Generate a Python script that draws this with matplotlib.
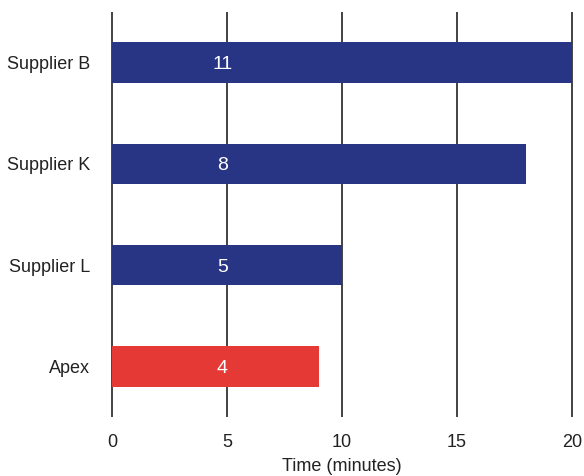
import matplotlib.pyplot as plt

suppliers = ['Supplier B', 'Supplier K', 'Supplier L', 'Apex']
times = [20, 18, 10, 9]
bar_labels = ['11', '8', '5', '4']
colors = ['#283584', '#283584', '#283584', '#E53935']
xticks = [0, 5, 10, 15, 20]

plt.rcParams['font.family'] = ['Liberation Sans', 'DejaVu Sans']

fig = plt.figure(figsize=(5.84, 4.76), dpi=100)
ax = fig.add_axes([0.19, 0.124, 0.791, 0.851])

ypos = list(range(len(suppliers)))
ax.barh(ypos, times, height=0.4, color=colors, zorder=2)

for y, lab in zip(ypos, bar_labels):
    ax.text(4.8, y + 0.02, lab, color='white', fontsize=14, ha='center', va='center', zorder=3)

for x in xticks:
    ax.axvline(x, color='#222222', linewidth=1.2, zorder=1)

ax.set_ylim(len(suppliers) - 0.5, -0.5)
ax.set_xlim(-0.05, 20.05)
ax.set_yticks(ypos)
ax.set_yticklabels(suppliers)
ax.set_xticks(xticks)
ax.tick_params(length=0, labelsize=13, colors='#222222')
ax.tick_params(axis='x', pad=12)
ax.tick_params(axis='y', pad=15)
for s in ax.spines.values():
    s.set_visible(False)

ax.set_xlabel('Time (minutes)', fontsize=13, color='#222222', labelpad=5)

plt.savefig('out.png', dpi=100)
